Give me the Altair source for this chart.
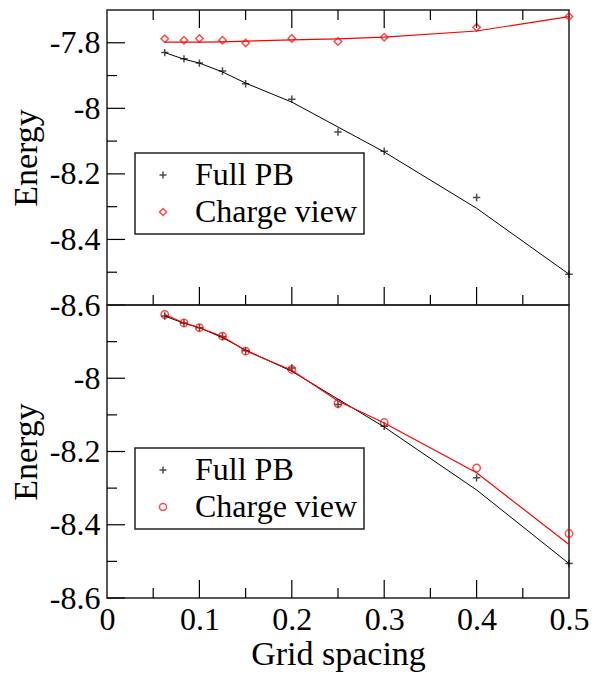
import altair as alt
import pandas as pd

# ---- data ----
x_vals = [0.0625, 0.0833, 0.1, 0.125, 0.15, 0.2, 0.25, 0.3, 0.4, 0.5]
full_pb = [-7.830, -7.849, -7.862, -7.886, -7.925, -7.972, -8.072, -8.131, -8.272, -8.506]
full_pb_fit = [-7.830, -7.850, -7.862, -7.889, -7.923, -7.981, -8.057, -8.133, -8.305, -8.506]
charge_top = [-7.788, -7.792, -7.787, -7.792, -7.801, -7.787, -7.796, -7.783, -7.753, -7.720]
charge_top_fit = [-7.798, -7.798, -7.798, -7.797, -7.795, -7.791, -7.788, -7.783, -7.764, -7.720]
charge_bot = [-7.826, -7.849, -7.862, -7.885, -7.926, -7.976, -8.069, -8.121, -8.245, -8.424]
charge_bot_fit = [-7.826, -7.849, -7.862, -7.886, -7.925, -7.978, -8.062, -8.122, -8.258, -8.454]

series_names = ["Full PB", "Charge view"]
series_colors = ["black", "red"]

x_tick_labels = [0, 0.1, 0.2, 0.3, 0.4, 0.5]
x_major = [0.1, 0.2, 0.3, 0.4]
x_minor = [0.05, 0.15, 0.25, 0.35, 0.45]
y_major_top = [-7.8, -8.0, -8.2, -8.4, -8.6]
y_major_bot = [-8.0, -8.2, -8.4, -8.6]
y_minor = [-7.9, -8.1, -8.3, -8.5]

W = 462
PLUS = "M-1,0L1,0M0,-1L0,1"
FONT = "Liberation Serif"
HYPHEN_MINUS = "replace(format(datum.value, '~g'), '\u2212', '-')"


def panel(pts_charge, fit_charge, y_domain, y_labels, height, top, charge_shape):
    xs = alt.Scale(domain=[0, 0.5], nice=False, zero=False)
    ys = alt.Scale(domain=y_domain, nice=False, zero=False)

    pts = pd.DataFrame({
        "x": x_vals * 2,
        "y": full_pb + pts_charge,
        "series": [series_names[0]] * len(x_vals) + [series_names[1]] * len(x_vals),
    })
    fit_pb = pd.DataFrame({"x": x_vals, "y": full_pb_fit})
    fit_ch = pd.DataFrame({"x": x_vals, "y": fit_charge})

    if top:
        xaxis = None
    else:
        xaxis = alt.Axis(values=x_tick_labels, format="~g", ticks=False, tickSize=0,
                         domain=False, grid=False, labelFlush=False, labelPadding=6,
                         labelFont=FONT, labelFontSize=32, titleFont=FONT, titleFontSize=34,
                         title="Grid spacing", titlePadding=2)
    yaxis = alt.Axis(values=y_labels, labelExpr=HYPHEN_MINUS, ticks=False, tickSize=0,
                     domain=False, labelFont=FONT, labelFontSize=32, titleFont=FONT,
                     titleFontSize=34, grid=False, labelPadding=7, title="Energy",
                     titlePadding=6)

    base_pts = alt.Chart(pts).mark_point(filled=False, strokeWidth=1.5, size=55).encode(
        x=alt.X("x:Q", scale=xs, axis=xaxis),
        y=alt.Y("y:Q", scale=ys, axis=yaxis),
        color=alt.Color("series:N", scale=alt.Scale(domain=series_names, range=series_colors),
                        legend=alt.Legend(title=None)),
        shape=alt.Shape("series:N", scale=alt.Scale(domain=series_names, range=[PLUS, charge_shape]),
                        legend=alt.Legend(title=None)),
    )
    line_pb = alt.Chart(fit_pb).mark_line(color="black", strokeWidth=1).encode(
        x=alt.X("x:Q", scale=xs), y=alt.Y("y:Q", scale=ys))
    line_ch = alt.Chart(fit_ch).mark_line(color="red", strokeWidth=1.2).encode(
        x=alt.X("x:Q", scale=xs), y=alt.Y("y:Q", scale=ys))

    ymaj = alt.Chart(pd.DataFrame({"v": y_labels})).mark_rule(color="black", strokeWidth=1.2).encode(
        y=alt.Y("v:Q", scale=ys), x=alt.value(0), x2=alt.value(18))
    ymin = alt.Chart(pd.DataFrame({"v": y_minor})).mark_rule(color="black", strokeWidth=1.2).encode(
        y=alt.Y("v:Q", scale=ys), x=alt.value(0), x2=alt.value(10))
    xmaj_b = alt.Chart(pd.DataFrame({"v": x_major})).mark_rule(color="black", strokeWidth=1.2).encode(
        x=alt.X("v:Q", scale=xs), y=alt.value(height), y2=alt.value(height - 18))
    xmin_b = alt.Chart(pd.DataFrame({"v": x_minor})).mark_rule(color="black", strokeWidth=1.2).encode(
        x=alt.X("v:Q", scale=xs), y=alt.value(height), y2=alt.value(height - 10))
    layers = [line_pb, line_ch, ymaj, ymin, xmaj_b, xmin_b]
    if top:
        xmaj_t = alt.Chart(pd.DataFrame({"v": x_major})).mark_rule(color="black", strokeWidth=1.2).encode(
            x=alt.X("v:Q", scale=xs), y=alt.value(0), y2=alt.value(18))
        xmin_t = alt.Chart(pd.DataFrame({"v": x_minor})).mark_rule(color="black", strokeWidth=1.2).encode(
            x=alt.X("v:Q", scale=xs), y=alt.value(0), y2=alt.value(10))
        layers += [xmaj_t, xmin_t]
    return alt.layer(base_pts, *layers).properties(width=W, height=height)


top_panel = panel(charge_top, charge_top_fit, [-8.6, -7.7], y_major_top, 295, True, "diamond")
bot_panel = panel(charge_bot, charge_bot_fit, [-8.6, -7.8], y_major_bot, 293, False, "circle")

chart = alt.vconcat(top_panel, bot_panel, spacing=0, bounds="flush").resolve_scale(
    color="independent", shape="independent"
).resolve_legend(color="independent", shape="independent").properties(
    padding={"left": 0, "top": 0, "right": 0, "bottom": 0}
).configure_view(
    stroke="#222222", strokeWidth=1.5
).configure_axis(
    labelFont=FONT, titleFont=FONT, labelFontSize=32, titleFontSize=34,
    labelColor="black", titleColor="black", titleFontWeight="normal"
).configure_legend(
    orient="none", legendX=28, legendY=143, labelFont=FONT, labelFontSize=32,
    labelColor="black", strokeColor="#222222", strokeWidth=1.5, fillColor="white",
    padding=6, rowPadding=5, symbolSize=50, symbolStrokeWidth=1.5,
    symbolOffset=6, labelOffset=16, labelLimit=400
)

chart.save("out.html", embed_options={"renderer": "svg", "actions": False})
